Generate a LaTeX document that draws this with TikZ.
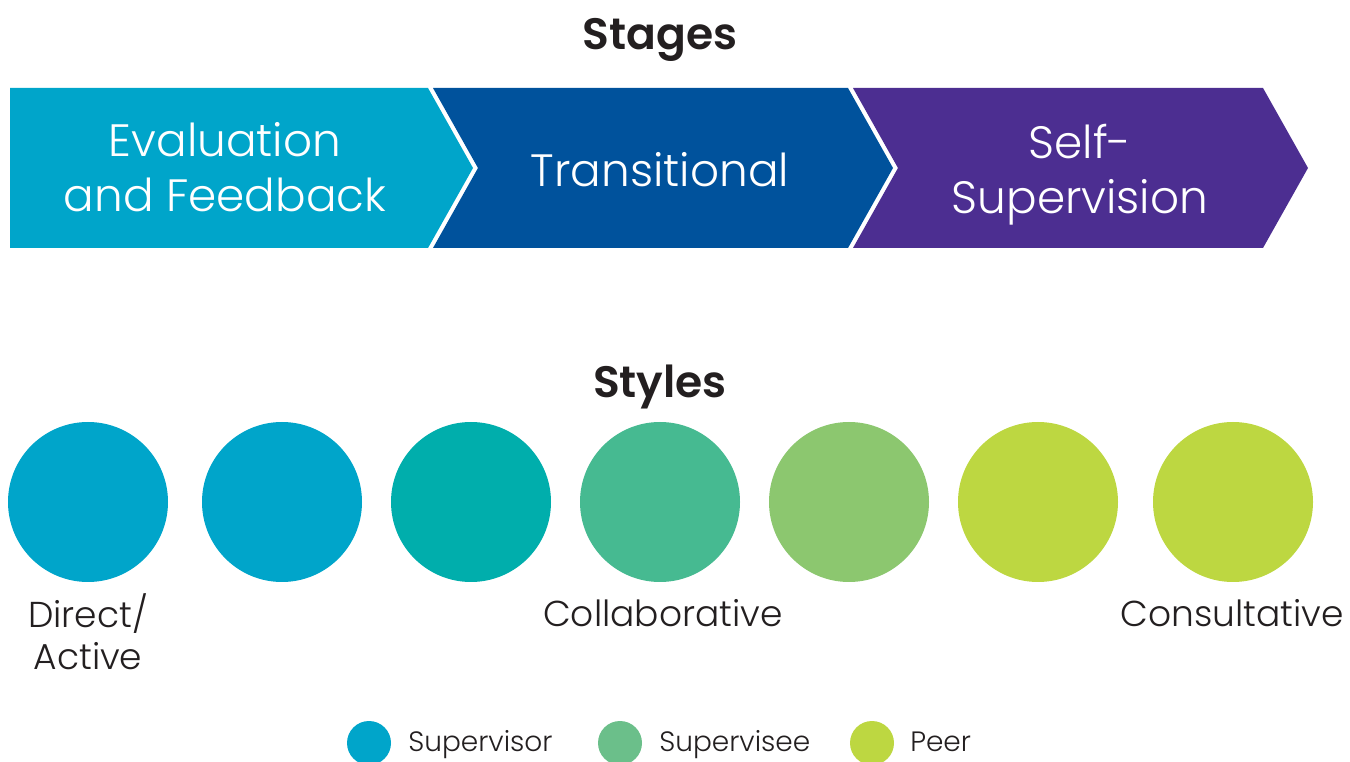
\documentclass[tikz,border=0pt]{standalone}
\usepackage{fontspec}
\setmainfont{Poppins}[UprightFont=* Light, BoldFont=* SemiBold]
\definecolor{cA}{RGB}{0,165,202}
\definecolor{cB}{RGB}{0,82,156}
\definecolor{cC}{RGB}{76,46,145}
\definecolor{cTeal}{RGB}{0,174,172}
\definecolor{cG1}{RGB}{70,186,145}
\definecolor{cG2}{RGB}{140,199,111}
\definecolor{cLime}{RGB}{189,215,65}
\definecolor{cSee}{RGB}{107,191,138}
\definecolor{ink}{RGB}{35,31,32}
\tikzset{
  chevtext/.style={text=white, align=center, font=\fontsize{34}{41}\selectfont, inner sep=0pt},
  title/.style={text=ink, anchor=base, font=\bfseries\fontsize{33}{40}\selectfont, inner sep=0pt},
  dot/.style={circle, draw=none, minimum size=160*0.75pt, inner sep=0pt},
  lab/.style={text=ink, align=center, font=\fontsize{27}{32}\selectfont, inner sep=0pt},
  legdot/.style={circle, draw=none, minimum size=44*0.75pt, inner sep=0pt},
  legtext/.style={text=ink, anchor=base west, font=\fontsize{21}{24}\selectfont, inner sep=0pt},
}
\begin{document}
\begin{tikzpicture}[x=0.75pt, y=-0.75pt]
\useasboundingbox (0,0) rectangle (1350,762);
\clip (0,0) rectangle (1350,762);
% titles
\node[title] (stages) at (660,50) {Stages};
\node[title] (styles) at (660,398) {Styles};
% chevrons
\fill[cA] (10,88) -- (428,88) -- (473,168) -- (428,248) -- (10,248) -- cycle;
\fill[cB] (433,88) -- (848,88) -- (893,168) -- (848,248) -- (433,248) -- (478,168) -- cycle;
\fill[cC] (853,88) -- (1263,88) -- (1308,168) -- (1263,248) -- (853,248) -- (898,168) -- cycle;
\node[chevtext] (evalfb) at (225,167) {Evaluation\\and Feedback};
\node[chevtext] (trans) at (660,170) {Transitional};
\node[chevtext] (selfsup) at (1080,175) {Self-\\Supervision};
% circles
\node[dot, fill=cA] (s1) at (88,502) {};
\node[dot, fill=cA] (s2) at (282,502) {};
\node[dot, fill=cTeal] (s3) at (471,502) {};
\node[dot, fill=cG1] (s4) at (660,502) {};
\node[dot, fill=cG2] (s5) at (849,502) {};
\node[dot, fill=cLime] (s6) at (1038,502) {};
\node[dot, fill=cLime] (s7) at (1233,502) {};
% labels
\node[lab, anchor=north] (ldirect) at (88,593) {Direct/\\Active};
\node[lab, anchor=north] (lcollab) at (663,599) {Collaborative};
\node[lab, anchor=north] (lconsult) at (1232,599) {Consultative};
% legend
\node[legdot, fill=cA] (g1) at (369,743) {};
\node[legdot, fill=cSee] (g2) at (620,743) {};
\node[legdot, fill=cLime] (g3) at (872,743) {};
\node[legtext] (t1) at (408,751) {Supervisor};
\node[legtext] (t2) at (659,751) {Supervisee};
\node[legtext] (t3) at (910,751) {Peer};
\end{tikzpicture}
\end{document}
